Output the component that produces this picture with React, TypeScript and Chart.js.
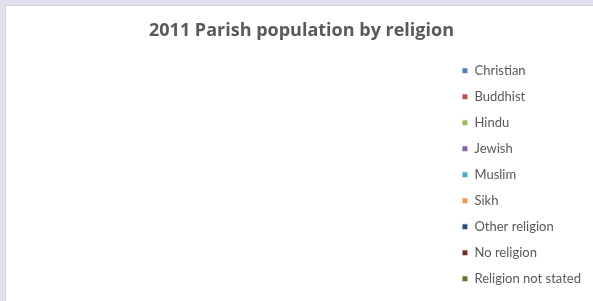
import React, { useEffect, useRef } from "react";
import { Chart, registerables } from "chart.js";

Chart.register(...registerables);

const categories = [
  "Christian",
  "Buddhist",
  "Hindu",
  "Jewish",
  "Muslim",
  "Sikh",
  "Other religion",
  "No religion",
  "Religion not stated",
];
const populationValues = [0, 0, 0, 0, 0, 0, 0, 0, 0];
const sliceColors = [
  "#4F81BD",
  "#C0504D",
  "#9BBB59",
  "#8064A2",
  "#4BACC6",
  "#F79646",
  "#2C4D75",
  "#772C2A",
  "#5F7530",
];
const chartTitle = "2011 Parish population by religion";

export default function App() {
  const ref = useRef<HTMLCanvasElement | null>(null);

  useEffect(() => {
    document.body.style.margin = "0";
    document.body.style.background = "#e2e0ee";
    if (!ref.current) return;
    const chart = new Chart(ref.current, {
      type: "pie",
      data: {
        labels: categories,
        datasets: [
          {
            data: populationValues,
            backgroundColor: sliceColors,
            borderColor: "#ffffff",
            borderWidth: 1,
          },
        ],
      },
      options: {
        animation: false,
        responsive: false,
        maintainAspectRatio: false,
        layout: { padding: { top: 10, right: 2, bottom: 0, left: 6 } },
        plugins: {
          title: {
            display: true,
            text: chartTitle,
            color: "#595959",
            font: { family: "Open Sans", size: 18, weight: "bold" },
            padding: { top: 4, bottom: 7 },
          },
          legend: {
            position: "right",
            fullSize: false,
            labels: {
              boxWidth: 6,
              boxHeight: 6,
              padding: 13,
              color: "#595959",
              font: { family: "Lato", size: 13 },
            },
          },
          tooltip: { enabled: false },
        },
      },
    });
    return () => chart.destroy();
  }, []);

  return (
    <div
      style={{
        position: "absolute",
        left: 5,
        top: 5,
        width: 587,
        height: 295,
        background: "#ffffff",
        borderLeft: "1px solid #d4d4d4",
        borderTop: "1px solid #d4d4d4",
      }}
    >
      <canvas ref={ref} width={587} height={295} style={{ display: "block" }} />
    </div>
  );
}
